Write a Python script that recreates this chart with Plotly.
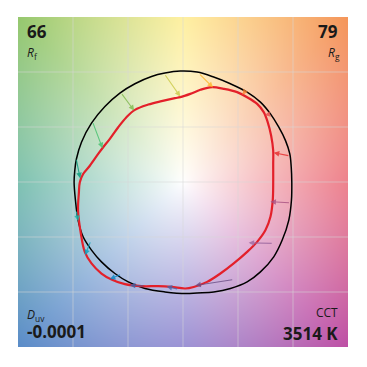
import numpy as np
import plotly.graph_objects as go

# ---- data (normalized a', b' coordinates) ----
ref_x = [0.989, 0.984, 0.971, 0.932, 0.871, 0.795, 0.704, 0.583, 0.431, 0.279, 0.128, -0.025,
         -0.164, -0.286, -0.437, -0.574, -0.710, -0.832, -0.923, -0.969, -0.984, -0.990,
         -0.978, -0.954, -0.908, -0.832, -0.741, -0.619, -0.498, -0.346, -0.164, 0.030,
         0.128, 0.279, 0.431, 0.583, 0.704, 0.825, 0.902, 0.962, 0.986]
ref_y = [-0.003, 0.134, 0.255, 0.376, 0.498, 0.619, 0.726, 0.817, 0.893, 0.954, 0.999, 1.008,
         0.990, 0.959, 0.893, 0.808, 0.686, 0.535, 0.362, 0.209, 0.103, -0.003,
         -0.164, -0.346, -0.498, -0.619, -0.726, -0.832, -0.908, -0.968, -0.999, -1.014,
         -1.008, -0.999, -0.968, -0.908, -0.817, -0.680, -0.528, -0.346, -0.164]

test_x = [0.820, 0.820, 0.820, 0.801, 0.770, 0.734, 0.674, 0.583, 0.492, 0.370, 0.264, 0.158,
          0.066, -0.025, -0.073, -0.195, -0.316, -0.437, -0.514, -0.589, -0.665, -0.726,
          -0.771, -0.847, -0.908, -0.938, -0.947, -0.954, -0.929, -0.893, -0.832, -0.741,
          -0.650, -0.528, -0.377, -0.225, -0.104, 0.021, 0.097, 0.219, 0.340, 0.461, 0.583,
          0.674, 0.750, 0.795, 0.816]
test_y = [-0.003, 0.164, 0.285, 0.422, 0.544, 0.635, 0.710, 0.771, 0.817, 0.847, 0.862, 0.838,
          0.801, 0.771, 0.762, 0.735, 0.704, 0.656, 0.589, 0.498, 0.392, 0.316,
          0.255, 0.148, 0.073, -0.003, -0.103, -0.255, -0.467, -0.635, -0.740, -0.832,
          -0.886, -0.929, -0.947, -0.947, -0.954, -0.968, -0.954, -0.908, -0.832, -0.740, -0.635,
          -0.544, -0.437, -0.316, -0.164]

# 16 hue-bin shift vectors: from reference (start) to test (end)
arr_x0 = [0.971, 0.795, 0.567, 0.142, -0.170, -0.565, -0.823, -0.972,
          -0.972, -0.838, -0.559, -0.346, -0.040, 0.461, 0.820, 0.977]
arr_y0 = [0.237, 0.619, 0.829, 0.990, 0.984, 0.813, 0.549, 0.216,
          -0.255, -0.535, -0.838, -0.947, -0.975, -0.886, -0.558, -0.189]
arr_x1 = [0.825, 0.743, 0.540, 0.273, -0.025, -0.444, -0.732, -0.935,
          -0.954, -0.890, -0.665, -0.483, -0.149, 0.112, 0.597, 0.795]
arr_y1 = [0.267, 0.610, 0.792, 0.859, 0.777, 0.649, 0.307, 0.034,
          -0.355, -0.665, -0.883, -0.938, -0.950, -0.940, -0.553, -0.179]
bin_colors = ["#e62828", "#e74b4b", "#fb812e", "#ffb529", "#cbca46", "#7eb94c", "#41c06d", "#009c7c",
              "#16bcb0", "#00a4bf", "#0085c3", "#3b62aa", "#4568ae", "#6a4e85", "#9d69a1", "#a74f81"]

Rf, Rg, Duv, CCT = "66", "79", "-0.0001", "3514 K"

# ---- background colour wheel image ----
N = 330
d = 3.0 / N
c = -1.5 + d / 2 + d * np.arange(N)
X, Y = np.meshgrid(c, c)
ang = np.degrees(np.arctan2(Y, X)) % 360
rad = np.hypot(X, Y)
anc_a = [0, 45, 90, 135, 180, 225, 270, 315, 360]
anc_c = np.array([[232, 85, 100], [245, 150, 90], [255, 235, 127], [150, 200, 110],
                  [80, 172, 150], [90, 140, 200], [120, 108, 198], [190, 80, 165], [232, 85, 100]], float)
w = np.clip(rad / 2.12, 0, 1) ** 0.9
img = np.zeros((N, N, 3))
for k in range(3):
    col = np.interp(ang, anc_a, anc_c[:, k])
    img[:, :, k] = 255 * (1 - w) + col * w
img = np.clip(img, 0, 255).astype(np.uint8)

fig = go.Figure()
fig.add_trace(go.Image(z=img, x0=c[0], dx=d, y0=c[0], dy=d, hoverinfo="skip"))

# grid lines
gx, gy = [], []
for v in [-1, -0.5, 0, 0.5, 1]:
    gx += [v, v, None, -1.5, 1.5, None]
    gy += [-1.5, 1.5, None, v, v, None]
fig.add_trace(go.Scatter(x=gx, y=gy, mode="lines", line=dict(color="rgba(215,215,215,0.55)", width=1),
                         hoverinfo="skip"))

fig.add_trace(go.Scatter(x=ref_x + ref_x[:1], y=ref_y + ref_y[:1], mode="lines",
                         line=dict(color="black", width=1.5, shape="spline"), hoverinfo="skip"))
fig.add_trace(go.Scatter(x=test_x + test_x[:1], y=test_y + test_y[:1], mode="lines",
                         line=dict(color="#e3202a", width=2.2, shape="spline"), hoverinfo="skip"))

for i in range(16):
    fig.add_annotation(x=arr_x1[i], y=arr_y1[i], ax=arr_x0[i], ay=arr_y0[i],
                       xref="x", yref="y", axref="x", ayref="y", text="",
                       showarrow=True, arrowhead=2, arrowsize=1, arrowwidth=1.1,
                       arrowcolor=bin_colors[i], opacity=0.8, standoff=0)

big = dict(family="Open Sans", size=17, color="#1a1a1a")
small = dict(family="Open Sans", size=12, color="#1a1a1a")
fig.add_annotation(xref="paper", yref="paper", x=0.022, y=0.955, text="<b>%s</b>" % Rf,
                   showarrow=False, xanchor="left", yanchor="middle", font=big)
fig.add_annotation(xref="paper", yref="paper", x=0.022, y=0.89, text="<i>R</i><sub>f</sub>",
                   showarrow=False, xanchor="left", yanchor="middle", font=small)
fig.add_annotation(xref="paper", yref="paper", x=0.975, y=0.955, text="<b>%s</b>" % Rg,
                   showarrow=False, xanchor="right", yanchor="middle", font=big)
fig.add_annotation(xref="paper", yref="paper", x=0.982, y=0.89, text="<i>R</i><sub>g</sub>",
                   showarrow=False, xanchor="right", yanchor="middle", font=small)
fig.add_annotation(xref="paper", yref="paper", x=0.022, y=0.097, text="<i>D</i><sub>uv</sub>",
                   showarrow=False, xanchor="left", yanchor="middle", font=small)
fig.add_annotation(xref="paper", yref="paper", x=0.022, y=0.046, text="<b>%s</b>" % Duv,
                   showarrow=False, xanchor="left", yanchor="middle", font=big)
fig.add_annotation(xref="paper", yref="paper", x=0.975, y=0.104, text="CCT",
                   showarrow=False, xanchor="right", yanchor="middle", font=small)
fig.add_annotation(xref="paper", yref="paper", x=0.975, y=0.042, text="<b>%s</b>" % CCT,
                   showarrow=False, xanchor="right", yanchor="middle", font=big)

fig.update_xaxes(range=[-1.5, 1.5], autorange=False, showgrid=False, zeroline=False,
                 showticklabels=False, ticks="", showline=False, fixedrange=True)
fig.update_yaxes(range=[-1.5, 1.5], autorange=False, showgrid=False, zeroline=False,
                 showticklabels=False, ticks="", showline=False, fixedrange=True)
fig.update_layout(width=367, height=367, margin=dict(l=18, r=19, t=17, b=20),
                  paper_bgcolor="white", plot_bgcolor="white", showlegend=False)
fig.write_html("out.html")
